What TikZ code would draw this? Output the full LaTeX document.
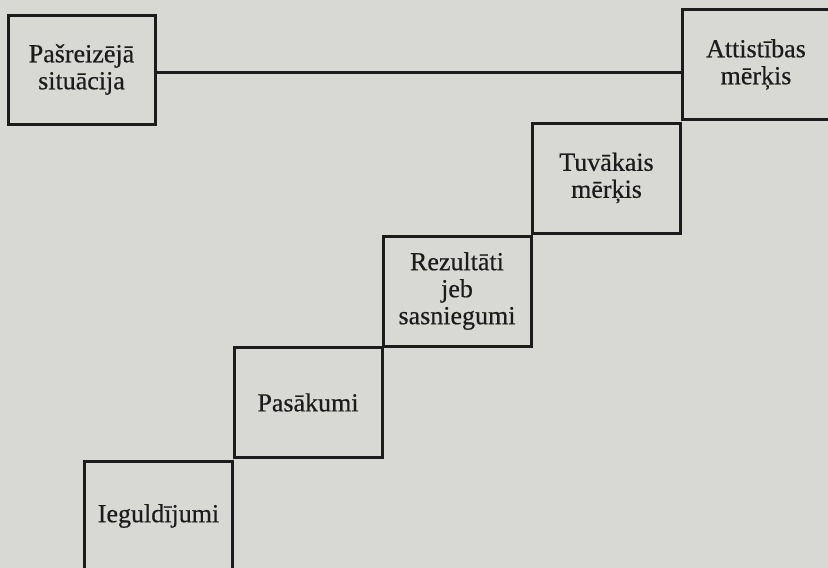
\documentclass[tikz,border=0pt]{standalone}
\usepackage{fontspec}
\setmainfont{Liberation Serif}[FakeBold=0.5]
\usetikzlibrary{calc}
\definecolor{paper}{RGB}{216,216,212}
\definecolor{ink}{RGB}{28,28,28}
\begin{document}
\begin{tikzpicture}[x=1pt,y=-1pt,
  stepbox/.style={draw=ink,line width=3pt,minimum width=148pt,minimum height=110pt,
    inner sep=0pt,align=center,text=ink,
    font=\fontsize{26}{27}\selectfont},
  link/.style={draw=ink,line width=3pt}]
  % page
  \fill[paper] (0,0) rectangle (828,568);
  \useasboundingbox (0,0) rectangle (828,568);
  \clip (0,0) rectangle (828,568);
  % starting point
  \node[stepbox,minimum width=147pt,minimum height=109pt] (sit) at (81.5,69.5) {Pašreizējā\\situācija};
  % staircase, lowest step first
  \node[stepbox] (ieg) at (158.5,516) {Ieguldījumi};
  \node[stepbox] (pas) at (308,402.5) {Pasākumi};
  \node[stepbox] (rez) at (457,291) {Rezultāti\\jeb\\sasniegumi};
  \node[stepbox] (tuv) at (606.5,178) {Tuvākais\\mērķis};
  \node[stepbox] (att) at (756,64.5) {Attistības\\mērķis};
  % link between the present situation and the development goal
  \coordinate (lk) at (0,72);
  \draw[link] (sit.east |- lk) -- (att.west |- lk);
\end{tikzpicture}
\end{document}
